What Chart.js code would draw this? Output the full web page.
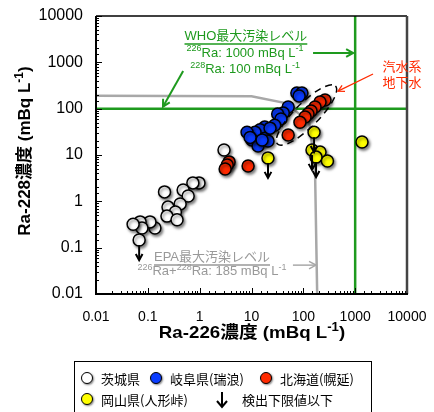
<!DOCTYPE html>
<html>
<head>
<meta charset="utf-8">
<script src="https://cdn.jsdelivr.net/npm/chart.js@4.4.1/dist/chart.umd.min.js"></script>
<style>
html,body{margin:0;padding:0;background:#fff;}
#wrap{position:relative;width:434px;height:412px;overflow:hidden;}
#c{position:absolute;left:0;top:0;}
.lg{position:absolute;left:74px;top:361px;width:298px;height:60px;border:1.5px solid #000;box-sizing:border-box;}
.it{position:absolute;font:13px "Noto Sans CJK JP",sans-serif;color:#000;line-height:16px;white-space:nowrap;}
.dot{position:absolute;width:10px;height:10px;border:1.5px solid #000;border-radius:50%;box-shadow:1px 1px 2px rgba(0,0,0,.5);}
</style>
</head>
<body>
<div id="wrap">
  <canvas id="c" width="434" height="412"></canvas>
  <div class="lg"></div>
  <div class="dot" style="left:81px;top:372px;background:#fff"></div>
  <div class="it" style="left:101px;top:371px">茨城県</div>
  <div class="dot" style="left:150px;top:372px;background:#0a3cff"></div>
  <div class="it" style="left:170px;top:371px">岐阜県(瑞浪)</div>
  <div class="dot" style="left:260px;top:372px;background:#ff2a00"></div>
  <div class="it" style="left:280px;top:371px">北海道(幌延)</div>
  <div class="dot" style="left:81px;top:393px;background:#ffff00"></div>
  <div class="it" style="left:101px;top:392px">岡山県(人形峠)</div>
  <svg style="position:absolute;left:215px;top:391px" width="14" height="18"><path d="M7 1 V16 M2 10 L7 16 L12 10" stroke="#000" stroke-width="2" fill="none"/></svg>
  <div class="it" style="left:242px;top:392px">検出下限値以下</div>
</div>
<script>
// Ra-226 / Ra-228 concentrations (mBq/L)
const ibaraki = [[2.95,12.8],[0.97,2.5],[0.74,2.5],[0.21,1.6],[0.48,1.75],[0.6,1.3],[0.42,0.88],[0.245,0.75],
  [0.34,0.59],[0.234,0.48],[0.366,0.4],[0.137,0.265],[0.11,0.36],[0.071,0.36],[0.077,0.265],[0.052,0.32],[0.068,0.146]];
const ibarakiLimit = [16];
const gifu = [[75,218],[94,218],[83,188],[51,109],[41,81],[32,77],[37,60],[28,44],[18,40],[14.6,35],[11.7,31],
  [8.2,31],[10.2,21],[13.4,15.6],[18.2,23],[20.8,20],[22.8,38],[9.4,24],[16,21]];
const horonobe = [[262,154],[210,139],[168,109],[141,89],[123,77],[108,66],[86,51],[51,27],[8.6,5.8],
  [3.7,7.1],[3.4,6.1],[3.1,5.0]];
const ningyo = [[161,31],[147,12.8],[210,11.6],[176,9],[292,7.4],[20.8,8.6],[1355,19]];
const ningyoLimit = [0,1,3,5];

// reference levels
const whoRa226 = 1000, whoRa228 = 100;
const epaLine = [[0.01,190],[10,185],[48,130],[130,50],[168,5],[185,0.01]];
const tickLabels = ['0.01','0.1','1','10','100','1000','10000'];

const FONT = '"Liberation Sans", Arial, "Noto Sans CJK JP", sans-serif';
const GREEN = '#1e9a1e', GRAY = '#a8a8a8', RED = '#ff2a00';
const pts = a => a.map(([x,y]) => ({x,y}));
const isMajor = v => Math.abs(Math.log10(v) - Math.round(Math.log10(v))) < 1e-6;

function line(ctx,x1,y1,x2,y2){ ctx.beginPath(); ctx.moveTo(x1,y1); ctx.lineTo(x2,y2); ctx.stroke(); }
function arrow(ctx,x1,y1,x2,y2,head){
  line(ctx,x1,y1,x2,y2);
  const a = Math.atan2(y2-y1,x2-x1);
  ctx.beginPath();
  ctx.moveTo(x2-head*Math.cos(a-0.5), y2-head*Math.sin(a-0.5));
  ctx.lineTo(x2,y2);
  ctx.lineTo(x2-head*Math.cos(a+0.5), y2-head*Math.sin(a+0.5));
  ctx.stroke();
}
// "^{..}" marks a superscript; opt.sx stretches the text horizontally
function rich(ctx,str,x,y,size,color,opt){
  opt = opt || {};
  const b = opt.bold ? 'bold ' : '';
  const sx = opt.sx || 1;
  const parts = str.split(/\^\{([^}]*)\}/).map((t,i)=>({t, sup: i%2===1})).filter(p=>p.t);
  const fnt = p => b + (p.sup ? Math.round(size*0.68) : size) + 'px ' + FONT;
  let w = 0;
  parts.forEach(p=>{ ctx.font = fnt(p); p.w = ctx.measureText(p.t).width; w += p.w; });
  ctx.save();
  ctx.translate(x,y); ctx.scale(sx,1);
  let x0 = opt.align==='left' ? 0 : opt.align==='right' ? -w : -w/2;
  ctx.fillStyle = color; ctx.textAlign = 'left'; ctx.textBaseline = 'middle';
  let cx = x0;
  parts.forEach(p=>{ ctx.font = fnt(p); ctx.fillText(p.t, cx, p.sup ? -size*0.33 : 0); cx += p.w; });
  if(opt.underline){ ctx.strokeStyle = color; ctx.lineWidth = 1.5; line(ctx,x0,size*0.62,x0+w,size*0.62); }
  ctx.restore();
}

const shadow = {
  id:'shadow',
  beforeDatasetDraw(chart,args){
    if(!chart.data.datasets[args.index].shadow) return;
    const ctx = chart.ctx; ctx.save();
    ctx.shadowColor = 'rgba(0,0,0,0.5)'; ctx.shadowBlur = 3; ctx.shadowOffsetX = 1.5; ctx.shadowOffsetY = 2;
  },
  afterDatasetDraw(chart,args){ if(chart.data.datasets[args.index].shadow) chart.ctx.restore(); }
};

const decor = {
  id:'decor',
  afterDatasetsDraw(chart){
    const ctx = chart.ctx, xs = chart.scales.x, ys = chart.scales.y;
    const px = v => xs.getPixelForValue(v), py = v => ys.getPixelForValue(v);
    ctx.save();
    // dashed ellipse round the brackish groundwater group
    ctx.strokeStyle = '#000'; ctx.lineWidth = 1.5; ctx.setLineDash([7,5]);
    ctx.beginPath(); ctx.ellipse(px(115), py(73), 41, 12, -Math.PI/4, 0, Math.PI*2); ctx.stroke();
    ctx.setLineDash([]);
    // detection-limit arrows
    ctx.lineWidth = 2; ctx.strokeStyle = '#000';
    const down = (x,y) => { const X = px(x), Y = py(y); arrow(ctx, X, Y+5, X, Y+20, 7); };
    ibarakiLimit.forEach(i => down(...ibaraki[i]));
    ningyoLimit.forEach(i => down(...ningyo[i]));
    ctx.restore();
  },
  afterDraw(chart){
    const ctx = chart.ctx, xs = chart.scales.x, ys = chart.scales.y, a = chart.chartArea;
    const px = v => xs.getPixelForValue(v), py = v => ys.getPixelForValue(v);
    ctx.save();
    // inward ticks
    ctx.strokeStyle = '#000'; ctx.lineWidth = 1;
    xs.ticks.forEach(t => { const p = Math.round(px(t.value))+0.5; line(ctx,p,a.bottom,p,a.bottom-(isMajor(t.value)?6:3)); });
    ys.ticks.forEach(t => { const p = Math.round(py(t.value))+0.5; line(ctx,a.left,p,a.left+(isMajor(t.value)?6:3),p); });
    // frame
    ctx.lineWidth = 1.5; line(ctx,a.left,a.top,a.right,a.top);
    ctx.strokeStyle = '#444'; ctx.lineWidth = 2.5; line(ctx,a.right,a.top,a.right,a.bottom);
    ctx.strokeStyle = '#000'; ctx.lineWidth = 2;
    line(ctx,a.left,a.top,a.left,a.bottom+1); line(ctx,a.left-1,a.bottom,a.right+1,a.bottom);

    // WHO annotation
    rich(ctx,'WHO最大汚染レベル',px(7.8),py(3700),13,GREEN,{underline:true});
    rich(ctx,'^{226}Ra: 1000 mBq L^{-1}',px(7.5),py(1590),13,GREEN);
    rich(ctx,'^{228}Ra: 100 mBq L^{-1}',px(7.5),py(700),13,GREEN);
    ctx.strokeStyle = GREEN; ctx.lineWidth = 2;
    arrow(ctx,px(154),py(1590),px(whoRa226)-2,py(1590),8);
    arrow(ctx,px(0.48),py(650),px(0.196),py(whoRa228)-2,8);
    // brackish groundwater
    ctx.font = '13px "Noto Sans CJK JP", sans-serif'; ctx.fillStyle = RED; ctx.textAlign = 'center'; ctx.textBaseline = 'middle';
    ctx.fillText('汽水系', px(8020), py(833));
    ctx.fillText('地下水', px(8020), py(376));
    ctx.strokeStyle = RED; ctx.lineWidth = 1.3;
    arrow(ctx,px(2210),py(560),px(467),py(240),7);
    // EPA annotation
    rich(ctx,'EPA最大汚染レベル',px(1.73),py(0.063),13,'#999',{underline:true});
    rich(ctx,'^{226}Ra+^{228}Ra: 185 mBq L^{-1}',px(0.063),py(0.03),13,'#999',{align:'left'});
    ctx.strokeStyle = GRAY; ctx.lineWidth = 1.5;
    arrow(ctx,px(63),py(0.042),px(176),py(0.042),8);

    // axis titles
    rich(ctx,'Ra-226濃度 (mBq L^{-1})',252,333,17,'#000',{bold:true, sx:1.1});
    ctx.translate(25,151); ctx.rotate(-Math.PI/2);
    rich(ctx,'Ra-228濃度 (mBq L^{-1})',0,0,17,'#000',{bold:true});
    ctx.restore();
  }
};

const scatter = (label, arr, color, order) => ({
  label, data: pts(arr), type:'scatter', showLine:false, shadow:true, order,
  pointRadius:6, pointHoverRadius:6, pointBackgroundColor:color, pointBorderColor:'#000', pointBorderWidth:1.5
});
const refLine = (data, color) => ({
  data, type:'line', showLine:true, borderColor:color, borderWidth:2.5, pointRadius:0, fill:false, tension:0, order:10
});

const tickOpts = size => ({
  autoSkip:false, maxRotation:0, color:'#000', font:{family:FONT, size},
  callback: v => isMajor(v) ? tickLabels[Math.round(Math.log10(v))+2] : ''
});

new Chart(document.getElementById('c'), {
  type:'scatter',
  data:{ datasets:[
    refLine(pts(epaLine), GRAY),
    refLine([{x:0.01,y:whoRa228},{x:10000,y:whoRa228}], GREEN),
    refLine([{x:whoRa226,y:0.01},{x:whoRa226,y:10000}], GREEN),
    scatter('茨城県', ibaraki, '#ffffff', 4),
    scatter('岐阜県(瑞浪)', gifu, '#0a3cff', 3),
    scatter('北海道(幌延)', horonobe, RED, 2),
    scatter('岡山県(人形峠)', ningyo, '#ffff00', 1)
  ]},
  plugins:[shadow, decor],
  options:{
    responsive:false, animation:false,
    layout:{ padding:{ top:16, right:27, left:0, bottom:0 } },
    plugins:{ legend:{display:false}, tooltip:{enabled:false} },
    scales:{
      x:{ type:'logarithmic', min:0.01, max:10000,
          grid:{display:false, drawTicks:false}, border:{display:false},
          ticks:{...tickOpts(14), padding:15},
          afterFit: s => { s.height = 118; s.paddingLeft = 0; s.paddingRight = 0; } },
      y:{ type:'logarithmic', min:0.01, max:10000,
          grid:{display:false, drawTicks:false}, border:{display:false},
          ticks:{...tickOpts(16), padding:13},
          afterFit: s => { s.width = 96; s.paddingTop = 0; s.paddingBottom = 0; } }
    }
  }
});
</script>
</body>
</html>
